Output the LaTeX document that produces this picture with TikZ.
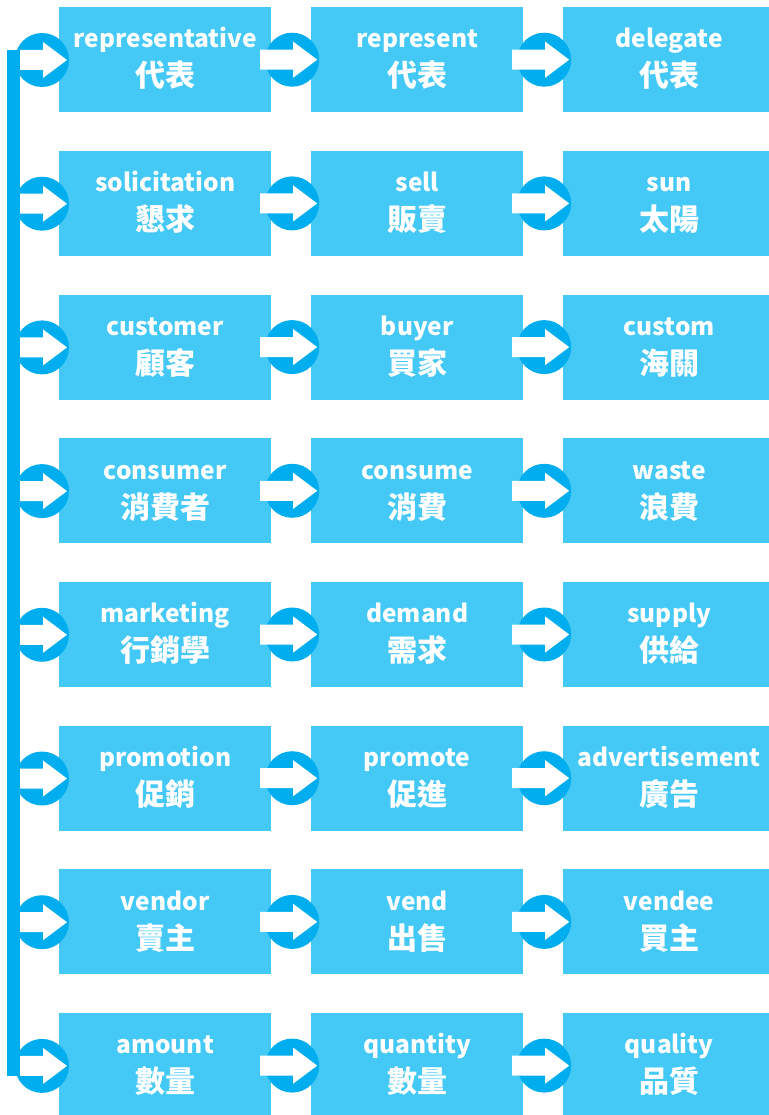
\documentclass[tikz,border=0pt]{standalone}
\usepackage{fontspec}
\newfontfamily\cjk{Noto Sans CJK TC}
\usetikzlibrary{calc}
\definecolor{boxblue}{RGB}{68,200,245}
\definecolor{circblue}{RGB}{0,173,239}
\tikzset{
  wordbox/.style={fill=boxblue, draw=none, minimum width=212pt, minimum height=105pt,
    inner sep=0pt, anchor=north west},
  entxt/.style={anchor=base, text=white, inner sep=0pt, font=\cjk\bfseries\fontsize{24.5}{28}\selectfont},
  zhtxt/.style={anchor=base, text=white, inner sep=0pt, font=\cjk\bfseries\fontsize{30}{34}\selectfont},
  conncirc/.style={circle, fill=circblue, draw=none, minimum size=54pt, inner sep=0pt},
  barrow/.pic={\fill[white] (#1,-10) -- (1,-10) -- (1,-18) -- (25,0) -- (1,18) -- (1,10) -- (#1,10) -- cycle;}
}
\begin{document}
\begin{tikzpicture}[x=1pt,y=-1pt]
\useasboundingbox (0,0) rectangle (768,1115);
\def\rowsep{143.7}
\foreach \r/\a/\aa/\b/\bb/\c/\cc [count=\i from 0] in {
  1/representative/代表/represent/代表/delegate/代表,
  2/solicitation/懇求/sell/販賣/sun/太陽,
  3/customer/顧客/buyer/買家/custom/海關,
  4/consumer/消費者/consume/消費/waste/浪費,
  5/marketing/行銷學/demand/需求/supply/供給,
  6/promotion/促銷/promote/促進/advertisement/廣告,
  7/vendor/賣主/vend/出售/vendee/買主,
  8/amount/數量/quantity/數量/quality/品質}{
  \pgfmathsetmacro{\yt}{7+\rowsep*\i}
  \pgfmathsetmacro{\yc}{\yt+53}
  \node[wordbox] (b\r a) at (59,\yt) {};
  \node[wordbox] (b\r b) at (311,\yt) {};
  \node[wordbox] (b\r c) at (563,\yt) {};
  \foreach \k/\e/\z in {a/\a/\aa, b/\b/\bb, c/\c/\cc}{
    \node[entxt] (e\r\k) at ($(b\r\k.north)+(0,41)$) {\e};
    \node[zhtxt] (z\r\k) at ($(b\r\k.north)+(0,80)$) {\z};
  }
  \node[conncirc] (l\r) at (42,\yc) {};
  \node[conncirc] (m\r) at ($(b\r a.east)!0.525!(b\r b.west)$) {};
  \node[conncirc] (n\r) at ($(b\r b.east)!0.525!(b\r c.west)$) {};
  \pic at (l\r.center) {barrow=-22};
  \pic at (m\r.center) {barrow=-32};
  \pic at (n\r.center) {barrow=-32};
}
\coordinate (bartop) at ($(l1.center)+(-35,-10)$);
\coordinate (barbot) at ($(l8.center)+(-22,10)$);
\fill[circblue] (bartop) rectangle (barbot);
\end{tikzpicture}
\end{document}
